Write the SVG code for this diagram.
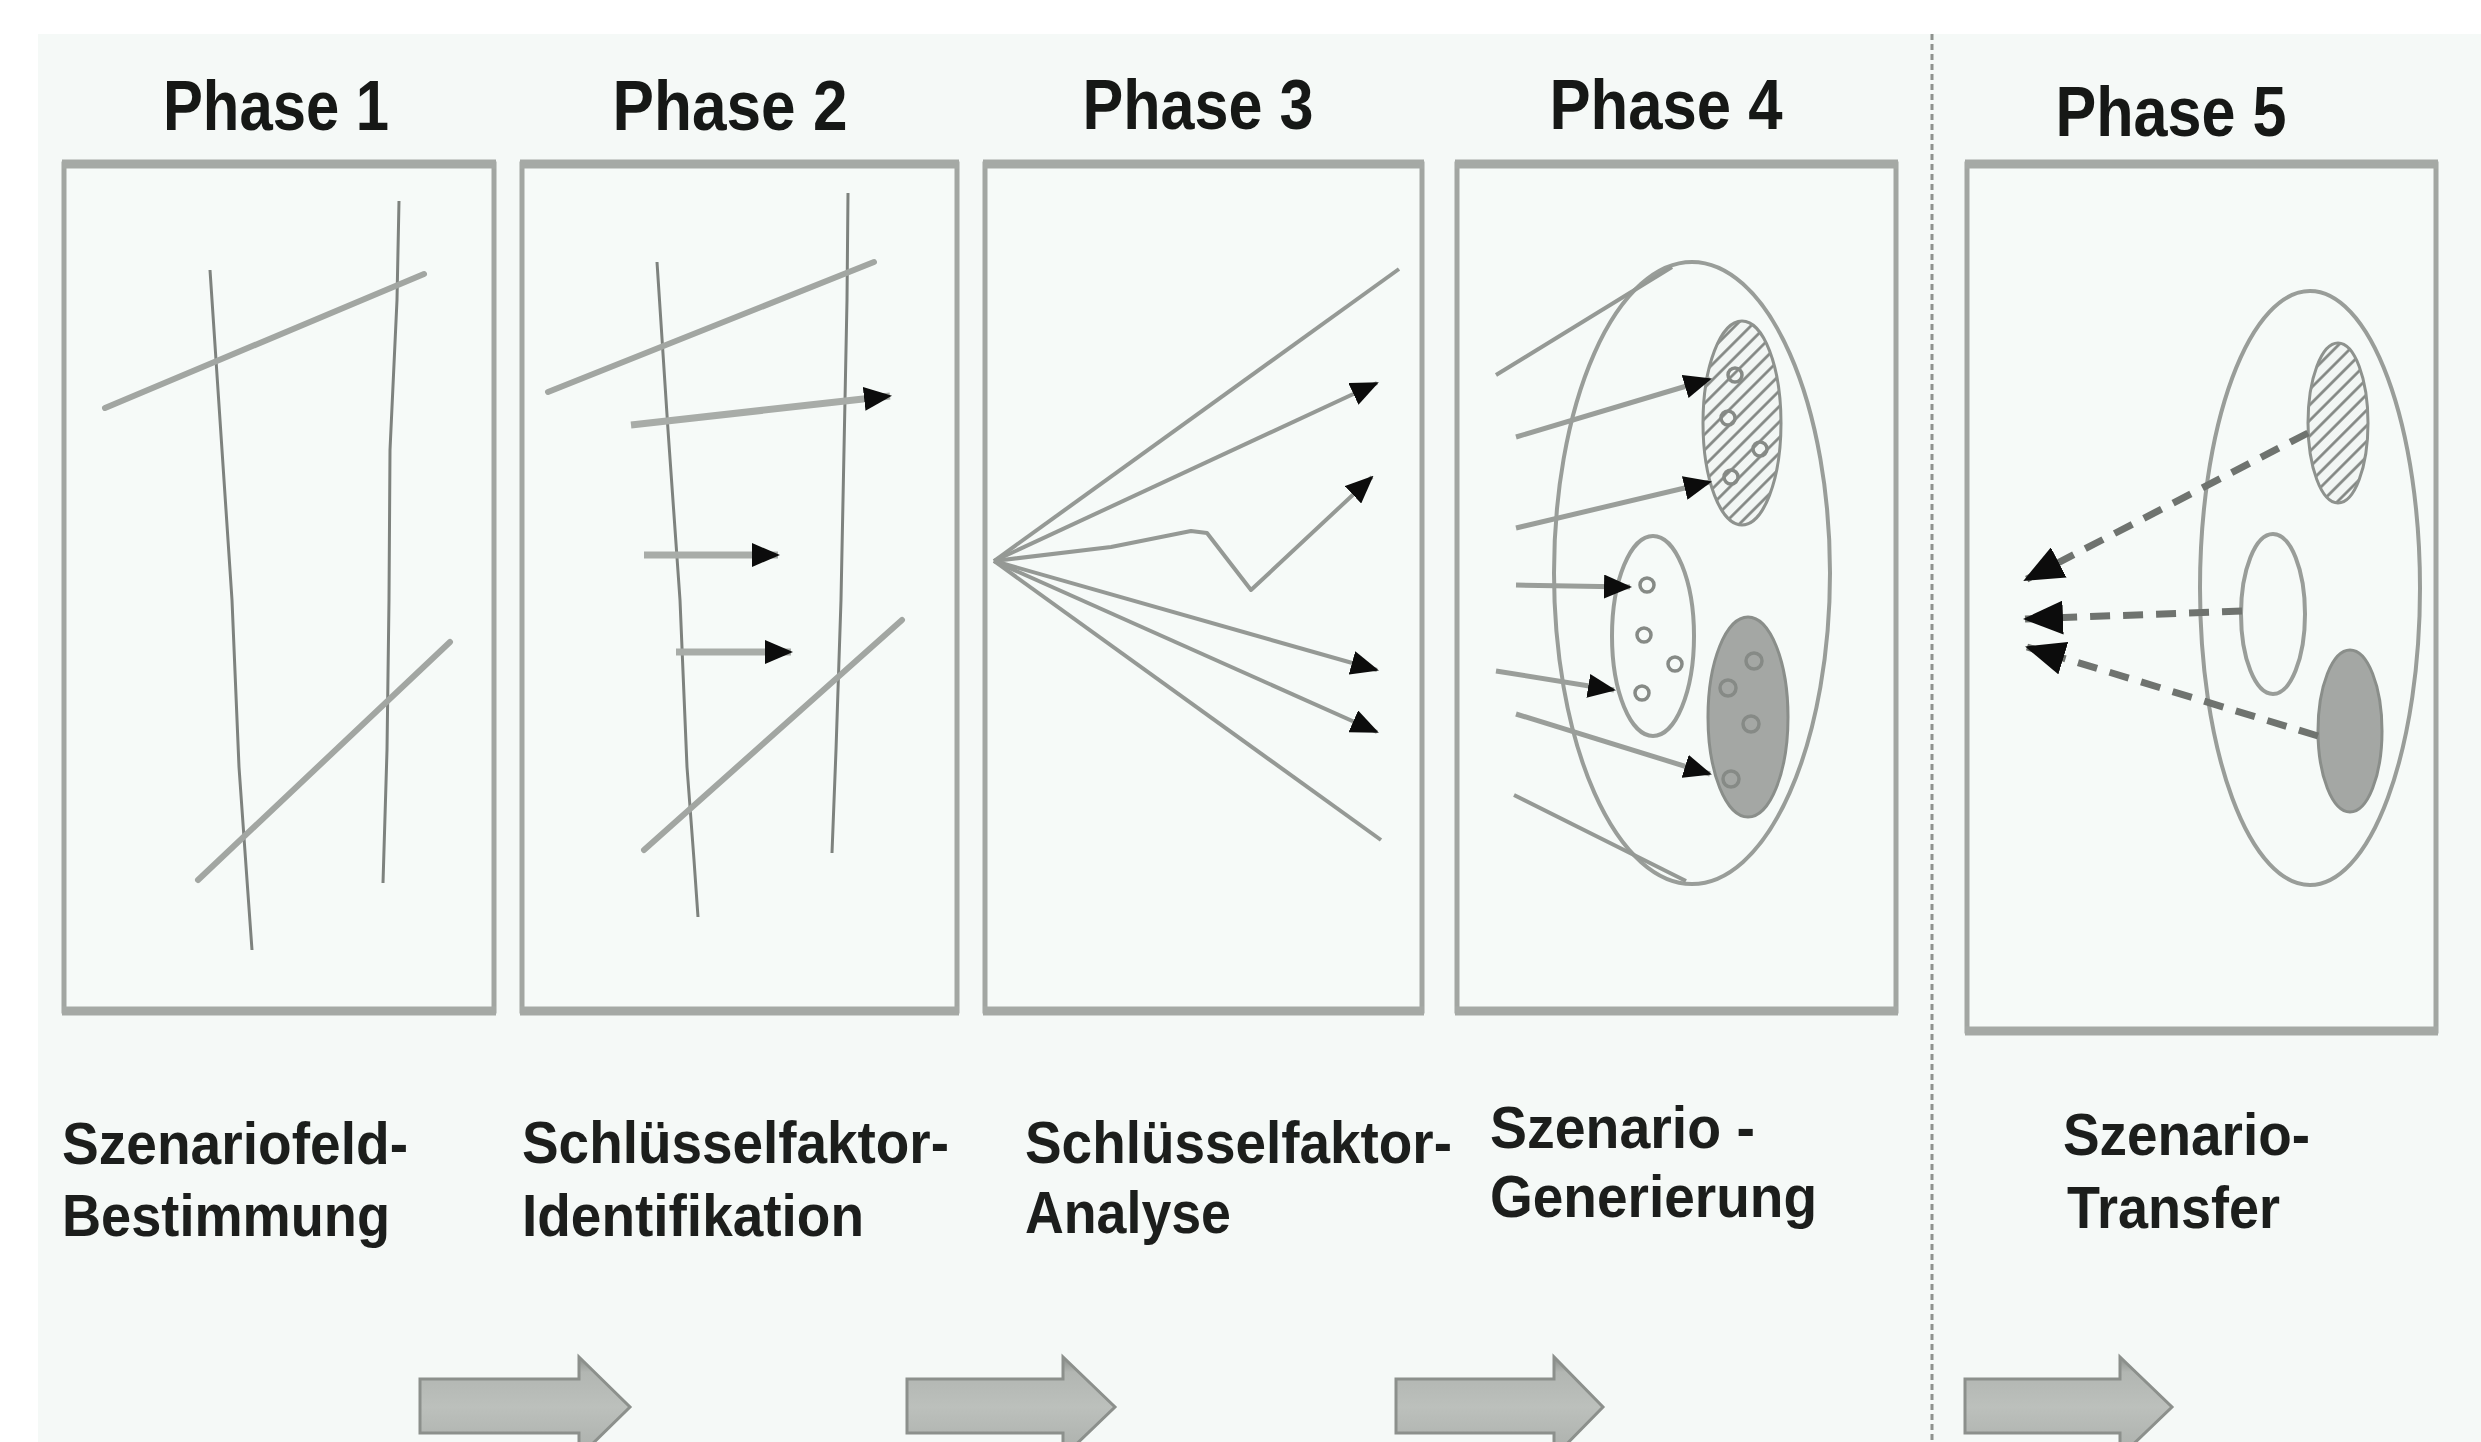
<svg xmlns="http://www.w3.org/2000/svg" width="2481" height="1442" viewBox="0 0 2481 1442">
<style>
.title{font-family:"Liberation Sans",Arial,sans-serif;font-weight:bold;font-size:70px;fill:#161816;text-anchor:middle}
.label{font-family:"Liberation Sans",Arial,sans-serif;font-weight:bold;font-size:60px;fill:#1c1e1c}
.box{fill:#f6faf8;stroke:#a2a6a2;stroke-width:5}
.edge{stroke:#a5a9a5;stroke-width:9;fill:none}
.thin{fill:none;stroke:#7e827e;stroke-width:3;stroke-linejoin:round}
.thick{fill:none;stroke:#a2a6a2;stroke-width:6;stroke-linecap:round}
.ray{fill:none;stroke:#959995;stroke-width:4;stroke-linejoin:round}
.arr{fill:none;stroke:#9a9e9a;stroke-width:5;marker-end:url(#ah)}
.arrw{fill:none;stroke:#a8aca8;stroke-width:7;marker-end:url(#ah)}
.ell{fill:#f6faf8;stroke:#999d99;stroke-width:4}
.dot{fill:none;stroke:#868a86;stroke-width:3.5}
.dash{fill:none;stroke:#6f736f;stroke-width:7;stroke-dasharray:20 13;marker-end:url(#ahb)}
.flow{fill:url(#fg);stroke:#8c908c;stroke-width:3;stroke-linejoin:miter}
</style>
<defs>
<marker id="ah" viewBox="0 0 28 24" refX="26" refY="12" markerWidth="28" markerHeight="24" markerUnits="userSpaceOnUse" orient="auto">
<path d="M0,0 L28,12 L0,24 Z" fill="#0c0c0c"/>
</marker>
<marker id="ahb" viewBox="0 0 40 34" refX="38" refY="17" markerWidth="40" markerHeight="34" markerUnits="userSpaceOnUse" orient="auto">
<path d="M0,0 L40,17 L0,34 Z" fill="#0c0c0c"/>
</marker>
<pattern id="hatch" width="11" height="11" patternUnits="userSpaceOnUse" patternTransform="rotate(-45)">
<rect width="11" height="11" fill="#f2f6f4"/>
<line x1="0" y1="5.5" x2="11" y2="5.5" stroke="#7e827e" stroke-width="2.6"/>
</pattern>
<linearGradient id="fg" x1="0" y1="0" x2="0" y2="1">
<stop offset="0" stop-color="#8a8e8a"/>
<stop offset="0.15" stop-color="#b2b6b2"/>
<stop offset="0.5" stop-color="#bcc0bc"/>
<stop offset="0.85" stop-color="#b0b4b0"/>
<stop offset="1" stop-color="#8a8e8a"/>
</linearGradient>
</defs>

<rect x="0" y="0" width="2481" height="1442" fill="#ffffff"/>
<rect x="38" y="34" width="2443" height="1408" fill="#f5f9f7"/>

<g id="phase1">
<text class="title" x="276" y="130" textLength="226" lengthAdjust="spacingAndGlyphs">Phase 1</text>
<rect class="box" x="64" y="164" width="430" height="847"/>
<line class="edge" x1="62" y1="164" x2="496" y2="164"/>
<line class="edge" x1="62" y1="1011" x2="496" y2="1011"/>
<path class="thin" d="M210,270 L222,450 L232,600 L239,767 L247,880 L252,950"/>
<path class="thin" d="M399,201 L397,300 L390,450 L389,600 L387,750 L383,883"/>
<line class="thick" x1="105" y1="408" x2="424" y2="274"/>
<line class="thick" x1="198" y1="880" x2="450" y2="642"/>
<text class="label" x="62" y="1164" textLength="346" lengthAdjust="spacingAndGlyphs">Szenariofeld-</text>
<text class="label" x="62" y="1236" textLength="328" lengthAdjust="spacingAndGlyphs">Bestimmung</text>
</g>

<g id="phase2">
<text class="title" x="730" y="130" textLength="235" lengthAdjust="spacingAndGlyphs">Phase 2</text>
<rect class="box" x="522" y="164" width="435" height="847"/>
<line class="edge" x1="520" y1="164" x2="959" y2="164"/>
<line class="edge" x1="520" y1="1011" x2="959" y2="1011"/>
<path class="thin" d="M657,262 L668,430 L680,600 L687,767 L694,860 L698,917"/>
<path class="thin" d="M848,193 L847,300 L841,600 L836,750 L832,853"/>
<line class="thick" x1="548" y1="392" x2="874" y2="262"/>
<line class="arrw" x1="631" y1="425" x2="890" y2="396"/>
<line class="arrw" x1="644" y1="555" x2="778" y2="555"/>
<line class="arrw" x1="676" y1="652" x2="791" y2="652"/>
<line class="thick" x1="644" y1="850" x2="902" y2="620"/>
<text class="label" x="522" y="1163" textLength="427" lengthAdjust="spacingAndGlyphs">Schlüsselfaktor-</text>
<text class="label" x="522" y="1236" textLength="342" lengthAdjust="spacingAndGlyphs">Identifikation</text>
</g>

<g id="phase3">
<text class="title" x="1198" y="129" textLength="231" lengthAdjust="spacingAndGlyphs">Phase 3</text>
<rect class="box" x="985" y="164" width="437" height="847"/>
<line class="edge" x1="983" y1="164" x2="1424" y2="164"/>
<line class="edge" x1="983" y1="1011" x2="1424" y2="1011"/>
<line class="ray" x1="994" y1="561" x2="1399" y2="269"/>
<path class="ray" d="M994,561 L1377,383" marker-end="url(#ah)"/>
<path class="ray" d="M994,561 L1111,547 L1191,531 L1207,533 L1251,590 L1372,477" marker-end="url(#ah)"/>
<path class="ray" d="M994,561 L1377,670" marker-end="url(#ah)"/>
<path class="ray" d="M994,561 L1377,732" marker-end="url(#ah)"/>
<line class="ray" x1="994" y1="561" x2="1381" y2="840"/>
<text class="label" x="1025" y="1163" textLength="427" lengthAdjust="spacingAndGlyphs">Schlüsselfaktor-</text>
<text class="label" x="1025" y="1233" textLength="206" lengthAdjust="spacingAndGlyphs">Analyse</text>
</g>

<g id="phase4">
<text class="title" x="1666" y="129" textLength="233" lengthAdjust="spacingAndGlyphs">Phase 4</text>
<rect class="box" x="1457" y="164" width="439" height="847"/>
<line class="edge" x1="1455" y1="164" x2="1898" y2="164"/>
<line class="edge" x1="1455" y1="1011" x2="1898" y2="1011"/>
<ellipse class="ell" cx="1692" cy="573" rx="138" ry="311"/>
<line class="ray" x1="1496" y1="375" x2="1672" y2="267"/>
<line class="ray" x1="1514" y1="795" x2="1686" y2="881"/>
<ellipse cx="1742" cy="423" rx="39" ry="102" fill="url(#hatch)" stroke="#8e928e" stroke-width="3"/>
<circle class="dot" cx="1735" cy="375" r="7"/>
<circle class="dot" cx="1728" cy="418" r="7"/>
<circle class="dot" cx="1760" cy="449" r="7"/>
<circle class="dot" cx="1731" cy="477" r="7"/>
<ellipse class="ell" cx="1653" cy="636" rx="41" ry="100" stroke-width="3"/>
<circle class="dot" cx="1647" cy="585" r="7"/>
<circle class="dot" cx="1644" cy="635" r="7"/>
<circle class="dot" cx="1675" cy="664" r="7"/>
<circle class="dot" cx="1642" cy="693" r="7"/>
<ellipse cx="1748" cy="717" rx="40" ry="100" fill="#a4a7a4" stroke="#8a8e8a" stroke-width="3"/>
<circle class="dot" cx="1754" cy="661" r="8" stroke="#767a76"/>
<circle class="dot" cx="1728" cy="688" r="8" stroke="#767a76"/>
<circle class="dot" cx="1751" cy="724" r="8" stroke="#767a76"/>
<circle class="dot" cx="1731" cy="779" r="8" stroke="#767a76"/>
<line class="arr" x1="1516" y1="437" x2="1710" y2="379"/>
<line class="arr" x1="1516" y1="528" x2="1710" y2="482"/>
<line class="arr" x1="1516" y1="585" x2="1630" y2="587"/>
<line class="arr" x1="1496" y1="671" x2="1614" y2="690"/>
<line class="arr" x1="1516" y1="714" x2="1710" y2="774"/>
<text class="label" x="1490" y="1148" textLength="265" lengthAdjust="spacingAndGlyphs">Szenario -</text>
<text class="label" x="1490" y="1217" textLength="327" lengthAdjust="spacingAndGlyphs">Generierung</text>
</g>

<line id="divider" x1="1932" y1="34" x2="1932" y2="1442" stroke="#8e928e" stroke-width="3" stroke-dasharray="6 4"/>

<g id="phase5">
<text class="title" x="2171" y="136" textLength="231" lengthAdjust="spacingAndGlyphs">Phase 5</text>
<rect class="box" x="1967" y="164" width="469" height="867"/>
<line class="edge" x1="1965" y1="164" x2="2438" y2="164"/>
<line class="edge" x1="1965" y1="1031" x2="2438" y2="1031"/>
<ellipse class="ell" cx="2310" cy="588" rx="110" ry="297"/>
<ellipse cx="2338" cy="423" rx="30" ry="80" fill="url(#hatch)" stroke="#8e928e" stroke-width="3"/>
<ellipse class="ell" cx="2273" cy="614" rx="32" ry="80" stroke-width="3"/>
<ellipse cx="2350" cy="731" rx="32" ry="81" fill="#a4a7a4" stroke="#8a8e8a" stroke-width="3"/>
<line class="dash" x1="2308" y1="433" x2="2025" y2="580"/>
<line class="dash" x1="2242" y1="611" x2="2025" y2="619"/>
<line class="dash" x1="2318" y1="736" x2="2027" y2="647"/>
<text class="label" x="2063" y="1155" textLength="247" lengthAdjust="spacingAndGlyphs">Szenario-</text>
<text class="label" x="2067" y="1228" textLength="213" lengthAdjust="spacingAndGlyphs">Transfer</text>
</g>

<g id="connectors">
<path class="flow" d="M420,1379 L579,1379 L579,1357 L630,1407 L579,1457 L579,1433 L420,1433 Z"/>
<path class="flow" d="M907,1379 L1063,1379 L1063,1357 L1115,1407 L1063,1457 L1063,1433 L907,1433 Z"/>
<path class="flow" d="M1396,1379 L1554,1379 L1554,1357 L1603,1407 L1554,1457 L1554,1433 L1396,1433 Z"/>
<path class="flow" d="M1965,1379 L2120,1379 L2120,1357 L2172,1407 L2120,1457 L2120,1433 L1965,1433 Z"/>
</g>
</svg>
